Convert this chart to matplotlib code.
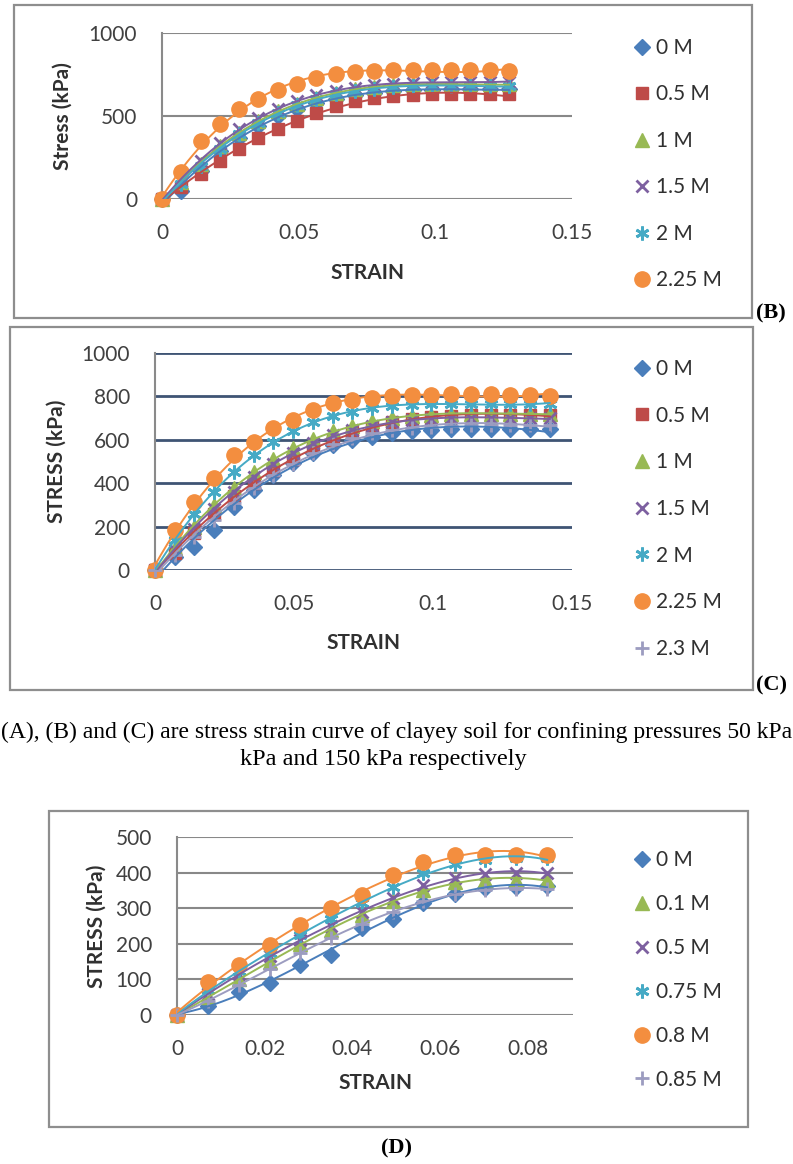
import numpy as np
import matplotlib
matplotlib.use('Agg')
import matplotlib.pyplot as plt
from matplotlib.lines import Line2D
from matplotlib.patches import Rectangle

W, H = 793, 1164
plt.rcParams['font.family'] = ['Lato', 'DejaVu Sans']

# ---------------- data ----------------
strain_B = [0, 0.0071, 0.0141, 0.0212, 0.0282, 0.0353, 0.0423, 0.0494, 0.0564, 0.0635,
            0.0705, 0.0776, 0.0846, 0.0917, 0.0987, 0.1058, 0.1128, 0.1199, 0.1269]
labels_B = ["0 M", "0.5 M", "1 M", "1.5 M", "2 M", "2.25 M"]
B_0M = [0, 50, 170, 290, 370, 440, 500, 545, 580, 605, 625, 640, 650, 655, 655, 660, 660, 660, 660]
B_05M = [0, 70, 150, 230, 300, 370, 420, 470, 520, 560, 590, 610, 620, 625, 630, 630, 630, 630, 630]
B_1M = [0, 100, 210, 320, 400, 470, 530, 575, 610, 640, 660, 675, 685, 690, 690, 690, 690, 690, 690]
B_15M = [0, 110, 230, 340, 420, 490, 545, 590, 625, 650, 670, 685, 695, 700, 705, 705, 705, 705, 705]
B_2M = [0, 90, 200, 300, 390, 460, 520, 565, 600, 630, 650, 665, 675, 680, 680, 680, 680, 680, 680]
B_225M = [0, 160, 350, 450, 545, 600, 655, 695, 730, 755, 765, 770, 775, 775, 775, 775, 775, 775, 770]

strain_C = [0, 0.0071, 0.0142, 0.0213, 0.0284, 0.0355, 0.0426, 0.0497, 0.0568, 0.0639, 0.0710,
            0.0781, 0.0852, 0.0923, 0.0994, 0.1065, 0.1136, 0.1207, 0.1278, 0.1349, 0.1420]
labels_C = ["0 M", "0.5 M", "1 M", "1.5 M", "2 M", "2.25 M", "2.3 M"]
C_0M = [0, 60, 106, 184, 290, 370, 440, 495, 540, 575, 600, 615, 630, 640, 645, 648, 650, 650, 650, 650, 650]
C_05M = [0, 80, 170, 260, 340, 400, 460, 510, 560, 600, 635, 660, 680, 695, 705, 710, 715, 715, 715, 715, 715]
C_1M = [0, 100, 200, 300, 380, 450, 510, 560, 605, 640, 665, 685, 700, 710, 715, 720, 720, 720, 720, 720, 720]
C_15M = [0, 90, 190, 280, 360, 430, 490, 540, 585, 620, 645, 665, 680, 690, 695, 700, 700, 700, 700, 700, 700]
C_2M = [0, 140, 260, 360, 450, 530, 590, 640, 680, 710, 730, 745, 755, 760, 765, 765, 765, 765, 765, 765, 765]
C_225M = [0, 184, 313, 423, 529, 589, 653, 690, 736, 768, 782, 791, 800, 805, 808, 810, 810, 810, 808, 805, 800]
C_23M = [0, 70, 150, 230, 310, 380, 440, 490, 540, 580, 610, 630, 645, 655, 660, 665, 670, 670, 670, 670, 670]

strain_D = [0, 0.0070, 0.0141, 0.0211, 0.0281, 0.0352, 0.0422, 0.0492, 0.0562, 0.0633, 0.0703, 0.0773, 0.0844]
labels_D = ["0 M", "0.1 M", "0.5 M", "0.75 M", "0.8 M", "0.85 M"]
D_0M = [0, 25, 65, 90, 140, 169, 245, 270, 315, 340, 357, 360, 362]
D_01M = [0, 50, 100, 150, 200, 240, 280, 320, 350, 375, 380, 380, 380]
D_05M = [0, 60, 115, 165, 210, 250, 290, 330, 365, 385, 395, 400, 400]
D_075M = [0, 70, 125, 175, 225, 270, 315, 360, 400, 425, 435, 440, 440]
D_08M = [0, 93, 140, 197, 253, 300, 337, 393, 430, 450, 450, 450, 450]
D_085M = [0, 40, 85, 130, 175, 215, 255, 290, 320, 340, 350, 355, 355]

xticks_B = [0, 0.05, 0.1, 0.15]
xticklabels_B = ["0", "0.05", "0.1", "0.15"]
yticks_B = [0, 500, 1000]
yticks_C = [0, 200, 400, 600, 800, 1000]
xticks_D = [0, 0.02, 0.04, 0.06, 0.08]
xticklabels_D = ["0", "0.02", "0.04", "0.06", "0.08"]
yticks_D = [0, 100, 200, 300, 400, 500]

caption_1 = "(A), (B) and (C) are stress strain curve of clayey soil for confining pressures 50 kPa"
caption_2 = "kPa and 150 kPa respectively"

# ---------------- styles ----------------
BLUE, RED, GREEN, PURPLE, CYAN, ORANGE, GRAY = ('#4A7EBB', '#BE4B48', '#98B954', '#7D60A0',
                                                '#46AAC5', '#F38E3F', '#9C9CC0')
ASTER = (6, 2, 0)
STY = {
    'diamond': dict(marker='D', color=BLUE, ms=8),
    'square': dict(marker='s', color=RED, ms=9),
    'triangle': dict(marker='^', color=GREEN, ms=10),
    'x': dict(marker='x', color=PURPLE, ms=9),
    'star': dict(marker=ASTER, color=CYAN, ms=10),
    'circle': dict(marker='o', color=ORANGE, ms=11),
    'plus': dict(marker='+', color=GRAY, ms=10),
}

fig = plt.figure(figsize=(W / 100, H / 100), dpi=100)

ov = fig.add_axes([0, 0, 1, 1])
ov.set_xlim(0, W)
ov.set_ylim(H, 0)
ov.axis('off')
BOXC = '#8E8E8E'
for (x0, y0, w, h) in [(14, 5, 738, 313), (10, 327, 743, 363), (49, 811, 699, 316)]:
    ov.add_patch(Rectangle((x0, y0), w, h, fill=False, ec=BOXC, lw=1.6))

cap_kw = dict(family=['Liberation Serif', 'DejaVu Serif'], color='black', va='center')
ov.text(396.5, 732, caption_1, ha='center', fontsize=17, **cap_kw)
ov.text(383, 760, caption_2, ha='center', fontsize=17.5, **cap_kw)
lab_kw = dict(family=['Liberation Serif', 'DejaVu Serif'], fontsize=16, fontweight='bold', va='center')
ov.text(756, 313, "(B)", ha='left', **lab_kw)
ov.text(756, 685, "(C)", ha='left', **lab_kw)
ov.text(397, 1148, "(D)", ha='center', **lab_kw)


def px_axes(x0, y0, x1, y1):
    a = fig.add_axes([x0 / W, 1 - y1 / H, (x1 - x0) / W, (y1 - y0) / H])
    a.set_facecolor('none')
    return a


def draw_panel(ax, x, series, labels, styles, xlim, ylim, xticks, xtl, yticks, gridc, gridlw,
               deg, ylab, ylab_x, xlab_y, leg_x, leg_top, leg_sp):
    xs = np.array(x)
    xf = np.linspace(0, xs.max(), 200)
    for ys, st in zip(series, styles):
        s = STY[st]
        ax.plot(xs, ys, linestyle='none', marker=s['marker'], ms=s['ms'], color=s['color'],
                mec=s['color'], mew=2 if st in ('x', 'star', 'plus') else 1, clip_on=False, zorder=3)
    for ys, st in zip(series, styles):
        c = np.polyfit(xs, ys, deg)
        ax.plot(xf, np.polyval(c, xf), color=STY[st]['color'], lw=1.4, zorder=4)
    ax.set_xlim(*xlim)
    ax.set_ylim(*ylim)
    ax.set_xticks(xticks)
    ax.set_xticklabels(xtl)
    ax.set_yticks(yticks)
    ax.set_yticklabels([str(v) for v in yticks])
    ax.tick_params(length=0, labelsize=15, colors='#404040')
    ax.tick_params(axis='x', pad=17)
    ax.tick_params(axis='y', pad=18)
    for sp in ('top', 'right', 'bottom'):
        ax.spines[sp].set_visible(False)
    ax.spines['left'].set_color('#8A8A8A')
    ax.spines['left'].set_linewidth(1.5)
    ax.set_axisbelow(True)
    ax.yaxis.grid(True, color=gridc, lw=gridlw)
    ax.set_xlabel('STRAIN', fontsize=15, fontweight='bold', color='#303030')
    ax.xaxis.set_label_coords(0.5, xlab_y)
    ax.xaxis.label.set_va('center')
    ax.set_ylabel(ylab, fontsize=15, fontweight='bold', color='#303030')
    ax.yaxis.set_label_coords(ylab_x, 0.5)
    ax.yaxis.label.set_va('center')
    handles = [Line2D([], [], linestyle='none', marker=STY[st]['marker'], ms=STY[st]['ms'],
                      color=STY[st]['color'], mec=STY[st]['color'],
                      mew=2 if st in ('x', 'star', 'plus') else 1) for st in styles]
    ax.legend(handles, labels, loc='upper left', bbox_to_anchor=(leg_x / W, 1 - leg_top / H),
              bbox_transform=fig.transFigure, frameon=False, fontsize=15, handlelength=0.8,
              handletextpad=0.25, borderpad=0, borderaxespad=0, labelspacing=leg_sp,
              labelcolor='#303030')


axB = px_axes(162, 33, 572, 199)
draw_panel(axB, strain_B, [B_0M, B_05M, B_1M, B_15M, B_2M, B_225M], labels_B,
           ['diamond', 'square', 'triangle', 'x', 'star', 'circle'],
           (0, 0.15), (0, 1000), xticks_B, xticklabels_B, yticks_B, '#888888', 1.5,
           3, 'Stress (kPa)', -0.2415, -0.446, 634, 38, 1.27)

axC = px_axes(155, 353, 572, 570)
draw_panel(axC, strain_C, [C_0M, C_05M, C_1M, C_15M, C_2M, C_225M, C_23M], labels_C,
           ['diamond', 'square', 'triangle', 'x', 'star', 'circle', 'plus'],
           (0, 0.15), (0, 1000), xticks_B, xticklabels_B, yticks_C, '#3F5474', 2.0,
           3, 'STRESS (kPa)', -0.235, -0.336, 634, 359, 1.28)

axD = px_axes(177, 837, 573, 1015)
draw_panel(axD, strain_D, [D_0M, D_01M, D_05M, D_075M, D_08M, D_085M], labels_D,
           ['diamond', 'triangle', 'x', 'star', 'circle', 'plus'],
           (0, 0.0903), (0, 500), xticks_D, xticklabels_D, yticks_D, '#888888', 1.5,
           4, 'STRESS (kPa)', -0.202, -0.382, 634, 850, 1.15)

fig.savefig('out.png', dpi=100)
